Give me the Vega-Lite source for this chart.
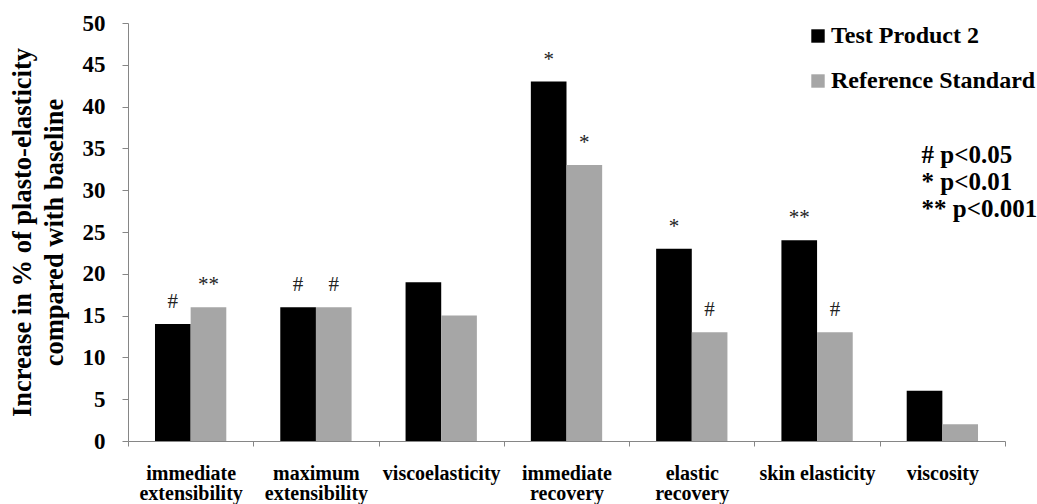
{
  "$schema": "https://vega.github.io/schema/vega-lite/v6.json",
  "autosize": {"type": "none"},
  "padding": {"left": 128, "top": 23, "right": 32, "bottom": 63},
  "width": 877,
  "height": 418,
  "config": {
    "view": {"stroke": null},
    "font": "Liberation Serif"
  },
  "datasets": {
    "bars": [
      {"category": "immediate extensibility", "product": "Test Product 2", "value": 14, "sig": "#"},
      {"category": "immediate extensibility", "product": "Reference Standard", "value": 16, "sig": "**"},
      {"category": "maximum extensibility", "product": "Test Product 2", "value": 16, "sig": "#"},
      {"category": "maximum extensibility", "product": "Reference Standard", "value": 16, "sig": "#"},
      {"category": "viscoelasticity", "product": "Test Product 2", "value": 19, "sig": ""},
      {"category": "viscoelasticity", "product": "Reference Standard", "value": 15, "sig": ""},
      {"category": "immediate recovery", "product": "Test Product 2", "value": 43, "sig": "*"},
      {"category": "immediate recovery", "product": "Reference Standard", "value": 33, "sig": "*"},
      {"category": "elastic recovery", "product": "Test Product 2", "value": 23, "sig": "*"},
      {"category": "elastic recovery", "product": "Reference Standard", "value": 13, "sig": "#"},
      {"category": "skin elasticity", "product": "Test Product 2", "value": 24, "sig": "**"},
      {"category": "skin elasticity", "product": "Reference Standard", "value": 13, "sig": "#"},
      {"category": "viscosity", "product": "Test Product 2", "value": 6, "sig": ""},
      {"category": "viscosity", "product": "Reference Standard", "value": 2, "sig": ""}
    ],
    "note": [
      {"category": "viscosity", "product": "Test Product 2", "value": 34.2, "text": "# p<0.05\n* p<0.01\n** p<0.001"}
    ]
  },
  "encoding": {
    "x": {
      "field": "category",
      "type": "nominal",
      "sort": ["immediate extensibility", "maximum extensibility", "viscoelasticity", "immediate recovery", "elastic recovery", "skin elasticity", "viscosity"],
      "scale": {"paddingInner": 0, "paddingOuter": 0},
      "axis": {
        "title": null,
        "labelAngle": 0,
        "labelExpr": "datum.label == 'skin elasticity' ? datum.label : split(datum.label, ' ')",
        "labelFont": "Liberation Serif",
        "labelFontWeight": "bold",
        "labelFontSize": 20,
        "labelLineHeight": 20,
        "labelColor": "#000000",
        "labelPadding": 17,
        "tickBand": "extent",
        "tickSize": 5,
        "tickColor": "#868686",
        "domainColor": "#868686",
        "labelBaseline": "top"
      }
    },
    "xOffset": {
      "field": "product",
      "type": "nominal",
      "sort": ["Test Product 2", "Reference Standard"],
      "scale": {"paddingInner": 0, "paddingOuter": 0.757}
    },
    "y": {
      "field": "value",
      "type": "quantitative",
      "scale": {"domain": [0, 50], "nice": false},
      "axis": {
        "values": [0, 5, 10, 15, 20, 25, 30, 35, 40, 45, 50],
        "grid": false,
        "title": ["Increase in % of plasto-elasticity", "compared with baseline"],
        "titleFont": "Liberation Serif",
        "titleFontWeight": "bold",
        "titleFontSize": 26.5,
        "titleLineHeight": 32,
        "titleColor": "#000000",
        "titlePadding": 14,
        "labelFont": "Liberation Serif",
        "labelFontWeight": "bold",
        "labelFontSize": 23,
        "labelColor": "#000000",
        "labelPadding": 17,
        "tickSize": 6,
        "tickColor": "#868686",
        "domainColor": "#868686"
      }
    }
  },
  "layer": [
    {
      "data": {"name": "bars"},
      "mark": {"type": "bar"},
      "encoding": {
        "color": {
          "field": "product",
          "type": "nominal",
          "sort": ["Test Product 2", "Reference Standard"],
          "scale": {"domain": ["Test Product 2", "Reference Standard"], "range": ["#000000", "#a6a6a6"]},
          "legend": {
            "title": null,
            "orient": "none",
            "legendX": 678,
            "legendY": 1,
            "symbolType": "square",
            "symbolSize": 180,
            "symbolStrokeWidth": 0,
            "labelFont": "Liberation Serif",
            "labelFontWeight": "bold",
            "labelFontSize": 24,
            "labelColor": "#000000",
            "labelOffset": 1,
            "rowPadding": 21,
            "labelLimit": 400
          }
        }
      }
    },
    {
      "data": {"name": "bars"},
      "mark": {"type": "text", "font": "Liberation Serif", "fontSize": 21, "color": "#222222", "baseline": "middle", "dy": -22},
      "encoding": {
        "text": {"field": "sig"}
      }
    },
    {
      "data": {"name": "note"},
      "mark": {"type": "text", "font": "Liberation Serif", "fontWeight": "bold", "fontSize": 25, "color": "#000000", "align": "left", "baseline": "middle", "lineBreak": "\n", "lineHeight": 27, "dx": -3},
      "encoding": {
        "text": {"field": "text"}
      }
    }
  ]
}
